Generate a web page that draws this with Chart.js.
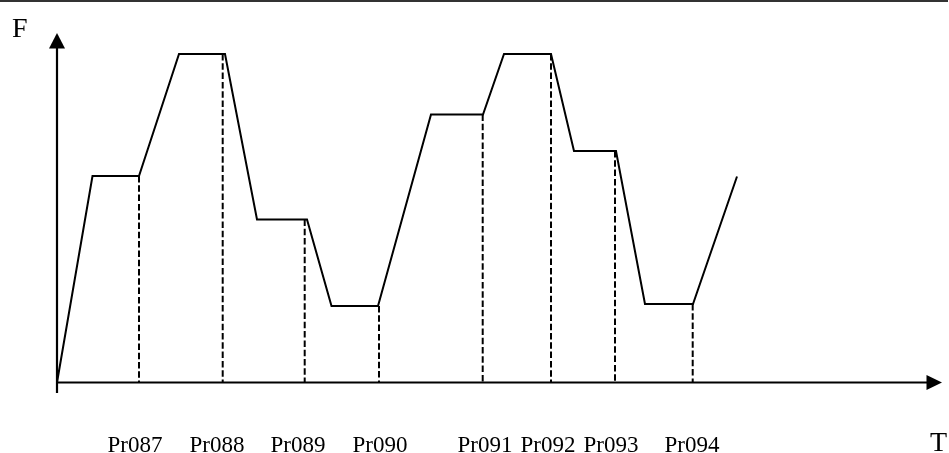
<!DOCTYPE html>
<html>
<head>
<meta charset="utf-8">
<script src="https://cdn.jsdelivr.net/npm/chart.js@4.4.1/dist/chart.umd.min.js"></script>
<style>
  html, body { margin: 0; padding: 0; background: #fff; }
  #wrap { position: relative; width: 949px; height: 453px; overflow: hidden; }
  #topRule { position: absolute; left: 0; top: 0; width: 948px; height: 2px; background: #333; }
</style>
</head>
<body>
<div id="wrap">
  <canvas id="chart"></canvas>
  <div id="topRule"></div>
</div>
<script>
// frequency profile (time units, frequency units)
const times = [0, 3.55, 8.2, 12.2, 16.8, 20.0, 25.0, 27.45, 32.1, 37.4, 42.6, 44.7, 49.4, 51.7, 55.9, 58.8, 63.6, 68.0];
const freqs = [0, 20.65, 20.65, 32.85, 32.85, 16.3, 16.3, 7.65, 7.65, 26.8, 26.8, 32.85, 32.85, 23.15, 23.15, 7.85, 7.85, 20.6];

// dashed markers: where each step ends, and how high it is
const markTimes = [8.2, 16.57, 24.77, 32.2, 42.57, 49.4, 55.8, 63.57];
const markFreqs = [20.65, 32.85, 16.3, 7.65, 26.8, 32.85, 23.15, 7.85];

// parameter names under the axis
const paramNames = ['Pr087', 'Pr088', 'Pr089', 'Pr090', 'Pr091', 'Pr092', 'Pr093', 'Pr094'];
const paramPos = [7.8, 16.0, 24.1, 32.3, 42.8, 49.1, 55.4, 63.5];

const xMax = 88.5;
const yMax = 34.95;

const datasets = [{
    data: times.map((t, i) => ({ x: t, y: freqs[i] })),
    borderColor: '#000',
    borderWidth: 2,
    pointRadius: 0,
    tension: 0,
    showLine: true
}];

markTimes.forEach((t, i) => {
    datasets.push({
        data: [{ x: t, y: markFreqs[i] }, { x: t, y: 0 }],
        borderColor: '#000',
        borderWidth: 2,
        borderDash: [6.5, 2.8],
        pointRadius: 0,
        showLine: true
    });
});

// axes with arrows, axis letters and parameter labels
const axisPlugin = {
    id: 'axes',
    afterDatasetsDraw(chart) {
        const ctx = chart.ctx;
        const xs = chart.scales.x;
        const ys = chart.scales.y;
        const x0 = xs.getPixelForValue(0);
        const y0 = ys.getPixelForValue(0);
        const top = chart.chartArea.top;
        const right = chart.chartArea.right;

        ctx.save();
        ctx.strokeStyle = '#000';
        ctx.fillStyle = '#000';
        ctx.lineWidth = 2.2;

        // y axis
        ctx.beginPath();
        ctx.moveTo(x0, top + 14);
        ctx.lineTo(x0, y0 + 10.5);
        ctx.stroke();
        ctx.beginPath();
        ctx.moveTo(x0, top);
        ctx.lineTo(x0 - 8, top + 15.5);
        ctx.lineTo(x0 + 8, top + 15.5);
        ctx.closePath();
        ctx.fill();

        // x axis
        ctx.beginPath();
        ctx.moveTo(x0, y0);
        ctx.lineTo(right - 14, y0);
        ctx.stroke();
        ctx.beginPath();
        ctx.moveTo(right, y0);
        ctx.lineTo(right - 15.5, y0 - 7.5);
        ctx.lineTo(right - 15.5, y0 + 7.5);
        ctx.closePath();
        ctx.fill();

        ctx.textBaseline = 'alphabetic';
        ctx.font = '28px "Liberation Serif", "Times New Roman", serif';
        ctx.textAlign = 'left';
        ctx.fillText('F', 12, 36.7);
        ctx.fillText('T', 930, 450.5);

        ctx.font = '23px "Liberation Serif", "Times New Roman", serif';
        ctx.textAlign = 'center';
        paramNames.forEach((name, i) => {
            ctx.fillText(name, xs.getPixelForValue(paramPos[i]), 452);
        });
        ctx.restore();
    }
};

new Chart(document.getElementById('chart'), {
    type: 'scatter',
    data: { datasets },
    options: {
        responsive: true,
        maintainAspectRatio: false,
        animation: false,
        layout: { padding: { left: 57, right: 7, top: 33, bottom: 70.5 } },
        plugins: { legend: { display: false }, tooltip: { enabled: false } },
        scales: {
            x: { type: 'linear', display: false, min: 0, max: xMax },
            y: { type: 'linear', display: false, min: 0, max: yMax }
        }
    },
    plugins: [axisPlugin]
});
</script>
</body>
</html>
